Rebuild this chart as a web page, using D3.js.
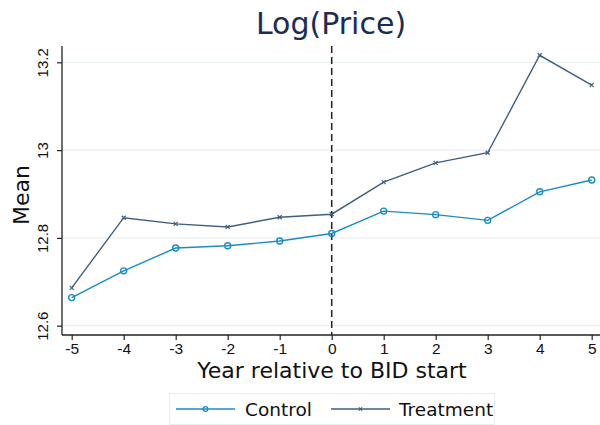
<!DOCTYPE html>
<html>
<head>
<meta charset="utf-8">
<script src="https://cdn.jsdelivr.net/npm/d3@7"></script>
<style>
  html, body { margin: 0; padding: 0; background: #fff; }
  svg { display: block; font-family: "DejaVu Sans", sans-serif; }
</style>
</head>
<body>
<svg id="chart" width="600" height="425"></svg>
<script>
const years = [-5, -4, -3, -2, -1, 0, 1, 2, 3, 4, 5];
const control = [12.664, 12.725, 12.777, 12.782, 12.793, 12.810, 12.861, 12.853, 12.840, 12.905, 12.932];
const treatment = [12.686, 12.846, 12.832, 12.825, 12.847, 12.854, 12.927, 12.971, 12.994, 13.216, 13.148];
const yTicks = [12.6, 12.8, 13, 13.2];
const xTicks = years;
const seriesNames = ["Control", "Treatment"];

const svg = d3.select("#chart");
const mLeft = 62, mRight = 600, mTop = 46, mBottom = 335;

const x = d3.scaleLinear().domain([-5, 5]).range([71.7, 591.7]);
const y = d3.scaleLinear().domain([12.6, 13.2]).range([325.7, 62.3]);

const cControl = "#1a8cc4";
const cTreat = "#3e5f7f";
const fmt = d => String(d);

// gridlines
svg.append("g").selectAll("line").data(yTicks).join("line")
  .attr("x1", mLeft).attr("x2", mRight)
  .attr("y1", d => y(d)).attr("y2", d => y(d))
  .attr("stroke", "#e8f0f2").attr("stroke-width", 1.2);

// y axis
const yAxis = svg.append("g").attr("transform", `translate(${mLeft},0)`)
  .call(d3.axisLeft(y).tickValues(yTicks).tickSize(5).tickPadding(4).tickFormat(fmt));
yAxis.select(".domain").attr("d", `M0,${mTop}V${mBottom}`).attr("stroke", "#222").attr("stroke-width", 1.3);
yAxis.selectAll(".tick line").attr("stroke", "#222").attr("stroke-width", 1.2);
yAxis.selectAll(".tick text")
  .attr("font-size", 15).attr("fill", "#111")
  .attr("transform", "rotate(-90)")
  .attr("x", 0).attr("y", -14)
  .attr("dy", 0)
  .attr("text-anchor", "middle");

// x axis
const xAxis = svg.append("g").attr("transform", `translate(0,${mBottom})`)
  .call(d3.axisBottom(x).tickValues(xTicks).tickSize(5).tickPadding(3).tickFormat(fmt));
xAxis.select(".domain").attr("d", `M${mLeft},0H${mRight}`).attr("stroke", "#222").attr("stroke-width", 1.3);
xAxis.selectAll(".tick line").attr("stroke", "#222").attr("stroke-width", 1.2);
xAxis.selectAll(".tick text").attr("font-size", 15.5).attr("fill", "#111");

// dashed vertical line at 0
svg.append("line")
  .attr("x1", x(0)).attr("x2", x(0))
  .attr("y1", mTop).attr("y2", mBottom)
  .attr("stroke", "#222").attr("stroke-width", 1.5)
  .attr("stroke-dasharray", "7,4");

const line = d3.line().x((d, i) => x(years[i])).y(d => y(d));

// treatment
svg.append("path").datum(treatment).attr("d", line)
  .attr("fill", "none").attr("stroke", cTreat).attr("stroke-width", 1.4);
const xMark = (cx, cy, s) => `M${cx - s},${cy - s}L${cx + s},${cy + s}M${cx - s},${cy + s}L${cx + s},${cy - s}`;
svg.append("g").selectAll("path").data(treatment).join("path")
  .attr("d", (d, i) => xMark(x(years[i]), y(d), 2))
  .attr("stroke", cTreat).attr("stroke-width", 1.2).attr("fill", "none");

// control
svg.append("path").datum(control).attr("d", line)
  .attr("fill", "none").attr("stroke", cControl).attr("stroke-width", 1.4);
svg.append("g").selectAll("circle").data(control).join("circle")
  .attr("cx", (d, i) => x(years[i])).attr("cy", d => y(d)).attr("r", 3)
  .attr("fill", "none").attr("stroke", cControl).attr("stroke-width", 1.4);

// title
svg.append("text").attr("x", 331).attr("y", 34).attr("text-anchor", "middle")
  .attr("font-size", 30).attr("fill", "#1c2c55").text("Log(Price)");

// axis titles
svg.append("text").attr("x", 332).attr("y", 378).attr("text-anchor", "middle")
  .attr("font-size", 22).attr("fill", "#111").text("Year relative to BID start");
svg.append("text").attr("transform", "translate(29,195) rotate(-90)").attr("text-anchor", "middle")
  .attr("font-size", 22).attr("fill", "#111").text("Mean");

// legend
const lg = svg.append("g");
lg.append("rect").attr("x", 169.5).attr("y", 393.5).attr("width", 325).attr("height", 31)
  .attr("fill", "#fff").attr("stroke", "#e6eef0").attr("stroke-width", 1);
const legendItems = [
  { name: seriesNames[0], color: cControl, x0: 176, tx: 245, type: "circle" },
  { name: seriesNames[1], color: cTreat, x0: 331, tx: 399, type: "x" }
];
const ly = 409;
legendItems.forEach(it => {
  lg.append("line").attr("x1", it.x0).attr("x2", it.x0 + 59).attr("y1", ly).attr("y2", ly)
    .attr("stroke", it.color).attr("stroke-width", 1.4);
  const mx = it.x0 + 29.5;
  if (it.type === "circle") {
    lg.append("circle").attr("cx", mx).attr("cy", ly).attr("r", 2.3)
      .attr("fill", "none").attr("stroke", it.color).attr("stroke-width", 1.3);
  } else {
    lg.append("path").attr("d", xMark(mx, ly, 1.6)).attr("stroke", it.color).attr("stroke-width", 1.2);
  }
  lg.append("text").attr("x", it.tx).attr("y", ly + 6.5).attr("font-size", 18.5).attr("fill", "#111").text(it.name);
});
</script>
</body>
</html>
